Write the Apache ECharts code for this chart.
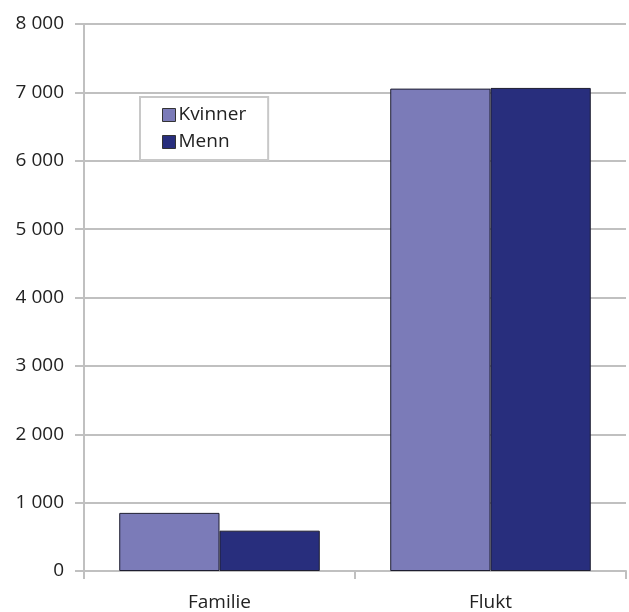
<!DOCTYPE html>
<html>
<head>
<meta charset="utf-8">
<script src="https://cdn.jsdelivr.net/npm/echarts@6/dist/echarts.min.js"></script>
<style>html,body{margin:0;padding:0;background:#fff}#c{width:629px;height:612px}</style>
</head>
<body>
<div id="c"></div>
<script>
var categories = ['Familie', 'Flukt'];
var kvinner = [850, 7055];
var menn = [590, 7065];
var seriesNames = ['Kvinner', 'Menn'];

var FONT = '"Open Sans", "Noto Sans", sans-serif';
var FS = 19;
var chart = echarts.init(document.getElementById('c'), null, {renderer: 'canvas'});
function fmt(v) { return String(v).replace(/\B(?=(\d{3})+(?!\d))/g, ' '); }
chart.setOption({
  animation: false,
  backgroundColor: '#ffffff',
  grid: {left: 84, right: 3, top: 24, bottom: 41, containLabel: false},
  legend: {
    data: seriesNames,
    orient: 'vertical',
    left: 140, top: 97,
    padding: [7, 22, 7, 22],
    itemGap: 5,
    itemWidth: 13, itemHeight: 13,
    icon: 'rect',
    itemStyle: {borderColor: '#333', borderWidth: 1},
    backgroundColor: '#ffffff',
    borderColor: '#c8c8c8', borderWidth: 2,
    textStyle: {fontFamily: FONT, fontSize: FS, color: '#222', lineHeight: 22, padding: [0, 0, 0, -2]}
  },
  xAxis: {
    type: 'category',
    data: categories,
    axisLine: {show: true, lineStyle: {color: '#c0c0c0', width: 2}},
    axisTick: {show: true, length: 8, lineStyle: {color: '#c0c0c0', width: 2}},
    axisLabel: {fontFamily: FONT, fontSize: FS, color: '#222', margin: 22}
  },
  yAxis: {
    type: 'value',
    min: 0, max: 8000, interval: 1000,
    axisLine: {show: true, lineStyle: {color: '#c0c0c0', width: 2}},
    axisTick: {show: true, length: 9, lineStyle: {color: '#c0c0c0', width: 2}},
    splitLine: {show: true, lineStyle: {color: '#c0c0c0', width: 2}},
    axisLabel: {fontFamily: FONT, fontSize: FS, color: '#222', margin: 20, formatter: fmt}
  },
  series: [
    {name: seriesNames[0], type: 'bar', data: kvinner, barGap: '0%', barCategoryGap: '26%',
     itemStyle: {color: '#7b7bb8', borderColor: '#1e1e30', borderWidth: 1}},
    {name: seriesNames[1], type: 'bar', data: menn, barGap: '0%', barCategoryGap: '26%',
     itemStyle: {color: '#282e7d', borderColor: '#1e1e30', borderWidth: 1}}
  ]
});
</script>
</body>
</html>
